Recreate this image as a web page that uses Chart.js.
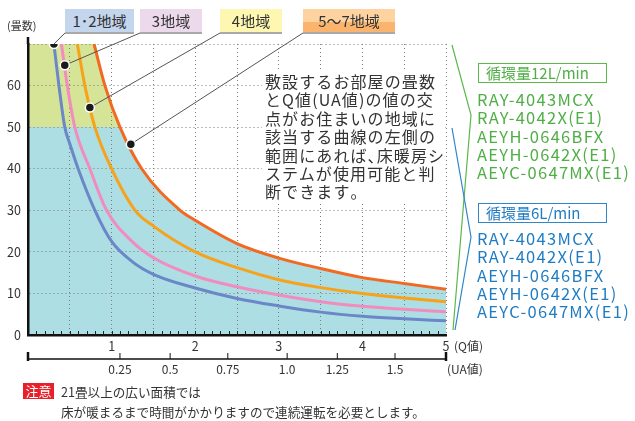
<!DOCTYPE html>
<html lang="ja">
<head>
<meta charset="utf-8">
<script src="https://cdn.jsdelivr.net/npm/chart.js@4.4.1/dist/chart.umd.min.js"></script>
<style>
  html, body { margin: 0; padding: 0; background: #fff; }
  body { font-family: "Noto Sans CJK JP", "Noto Sans", sans-serif; color: #333; }
  #wrap { position: relative; width: 635px; height: 421px; overflow: hidden; }
  #wrap canvas { position: absolute; left: 0; top: 0; }
  .abs { position: absolute; white-space: nowrap; }
  .zone { top: 9px; height: 23px; line-height: 23px; text-align: center; font-size: 15px; color: #333; }
  .ytitle { left: 7px; top: 17px; font-size: 11px; }
  .unit { font-size: 12px; }
  .desc { left: 262px; top: 72px; width: 178px; padding-left: 3px; background: #fff; font-size: 16px; line-height: 18.4px; letter-spacing: 1.1px; color: #333; }
  .half { font-feature-settings: "halt"; }
  .flow { left: 478px; width: 129px; height: 20px; line-height: 17px; font-size: 15px; padding-left: 7px; box-sizing: border-box; }
  .models { left: 477px; font-size: 16.5px; line-height: 18.3px; letter-spacing: 1.3px; }
  .caution { left: 23px; top: 383px; width: 31px; height: 16px; line-height: 16px; background: #e8202a; color: #fff; font-size: 13px; text-align: center; }
  .note { left: 61px; font-size: 12.6px; line-height: 20px; color: #333; }
</style>
</head>
<body>
<div id="wrap">
  <canvas id="chart"></canvas>
  <div class="abs ytitle">(畳数)</div>
  <div class="abs unit" style="left:454px; top:337px;">(Q値)</div>
  <div class="abs unit" style="left:447px; top:360px;">(UA値)</div>
  <div class="abs desc">敷設するお部屋の畳数<br>とQ値(UA値)の値の交<br>点がお住まいの地域に<br>該当する曲線の左側の<br>範囲にあれば<span class="half">、</span>床暖房シ<br>ステムが使用可能と判<br>断できます<span class="half">。</span></div>
  <div class="abs flow" style="top:63px; border:1.5px solid #5cb84a; color:#4fae45;">循環量12L/min</div>
  <div class="abs models" id="models12" style="top:90px; color:#4fae45;"></div>
  <div class="abs flow" style="top:203px; border:1.5px solid #2f86c8; color:#1f7cc2;">循環量6L/min</div>
  <div class="abs models" id="models6" style="top:229px; color:#1f7cc2;"></div>
  <div class="abs caution">注意</div>
  <div class="abs note" style="top:382px;">21畳以上の広い面積では<br>床が暖まるまで時間がかかりますので連続運転を必要とします。</div>
</div>
<script>
// 地域ごとの曲線 (Q値, 畳数)
const zoneNames = ["1･2地域", "3地域", "4地域", "5〜7地域"];

const qBlue = [0.31, 0.37, 0.44, 0.5, 0.6, 0.8, 1.0, 1.25, 1.5, 2.0, 2.5, 3.0, 3.5, 4.0, 4.5, 5.0];
const yBlue = [70, 60, 50, 46, 40, 30, 22.5, 17.6, 14.6, 11.3, 8.8, 7.0, 5.5, 4.5, 3.9, 3.4];

const qPink = [0.40, 0.47, 0.56, 0.74, 0.94, 1.25, 1.5, 2.0, 2.5, 3.0, 3.5, 4.0, 4.5, 5.0];
const yPink = [70, 60, 50, 40, 30, 22.4, 18.6, 14.2, 11.6, 9.6, 8.0, 6.9, 6.2, 5.6];

const qYellow = [0.59, 0.68, 0.80, 1.0, 1.28, 1.5, 2.0, 2.5, 3.0, 3.5, 4.0, 4.5, 5.0];
const yYellow = [70, 60, 50, 40, 30, 26.2, 20.0, 16.2, 13.3, 11.4, 10.0, 8.9, 8.0];

const qOrange = [0.79, 0.92, 1.1, 1.36, 1.82, 2.0, 2.5, 3.0, 3.5, 4.0, 4.5, 5.0];
const yOrange = [70, 60, 50, 40, 30, 27.6, 22.0, 18.5, 16.0, 13.8, 12.4, 11.0];

// 引き出し線の点
const dotQ = [0.31, 0.44, 0.74, 1.23];
const dotY = [70, 64.9, 54.7, 45.9];

// UA値の目盛 (Q値軸上の位置)
const uaLabels = ["0.25", "0.5", "0.75", "1.0", "1.25", "1.5"];
const uaAtQ = [1.10, 1.70, 2.39, 3.10, 3.70, 4.39];

const models = ["RAY-4043MCX", "RAY-4042X(E1)", "AEYH-0646BFX", "AEYH-0642X(E1)", "AEYC-0647MX(E1)"];

const qMin = 0, qMax = 5, yMin = 0, yMax = 70;
const upperBand = 50;

const lineColors = ["#6b87c7", "#f28cbf", "#f7a21b", "#f26a21"];
const zoneColors = ["#c4d5ee", "#ecd9ec", "#fdf7b2", "linear-gradient(#fed3a0 0%, #fed3a0 55%, #fbb46d 55%, #fbb46d 100%)"];
const zoneLeft = [65, 140, 220, 303];
const zoneWidth = [69, 62, 62, 92];
const zoneLineY = 33;

const FONT = "'Noto Sans CJK JP', 'Noto Sans', sans-serif";

// ラベル
const wrap = document.getElementById("wrap");
zoneNames.forEach((name, i) => {
    const d = document.createElement("div");
    d.className = "abs zone";
    d.style.left = zoneLeft[i] + "px";
    d.style.width = zoneWidth[i] + "px";
    d.style.background = zoneColors[i];
    d.textContent = name;
    wrap.appendChild(d);
});
document.getElementById("models12").innerHTML = models.join("<br>");
document.getElementById("models6").innerHTML = models.join("<br>");

const toPoints = (qs, ys) => qs.map((q, i) => ({ x: q, y: ys[i] }));

const fillArea = [{ x: qMin, y: yMax }].concat(toPoints(qOrange, yOrange));

function bandFill(context) {
    const chart = context.chart;
    const area = chart.chartArea;
    if (!area) return "#acdee4";
    const y50 = chart.scales.y.getPixelForValue(upperBand);
    const t = Math.min(1, Math.max(0, (y50 - area.top) / (area.bottom - area.top)));
    const g = chart.ctx.createLinearGradient(0, area.top, 0, area.bottom);
    g.addColorStop(0, "#d6e498");
    g.addColorStop(t, "#d6e498");
    g.addColorStop(t, "#acdee4");
    g.addColorStop(1, "#acdee4");
    return g;
}

const curve = (qs, ys, color) => ({
    type: "line",
    data: toPoints(qs, ys),
    borderColor: color,
    borderWidth: 3,
    pointRadius: 0,
    fill: false,
    cubicInterpolationMode: "monotone"
});

const decor = {
    id: "decor",
    beforeDatasetDraw(chart, args) {
        if (args.index !== 0) return;
        const ctx = chart.ctx;
        const x = chart.scales.x, y = chart.scales.y;
        ctx.save();
        ctx.setLineDash([]);
        ctx.strokeStyle = "#555";
        ctx.lineWidth = 1;
        dotQ.forEach((q, i) => {
            ctx.beginPath();
            ctx.moveTo(x.getPixelForValue(q), y.getPixelForValue(dotY[i]));
            ctx.lineTo(zoneLeft[i], zoneLineY);
            ctx.lineTo(zoneLeft[i] + zoneWidth[i], zoneLineY);
            ctx.stroke();
        });
        ctx.restore();
    },
    afterDraw(chart) {
        const ctx = chart.ctx;
        const x = chart.scales.x;
        const a = chart.chartArea;
        ctx.save();
        ctx.setLineDash([]);
        // y軸の延長
        ctx.strokeStyle = "#111";
        ctx.lineWidth = 2.5;
        ctx.beginPath();
        ctx.moveTo(a.left, a.top);
        ctx.lineTo(a.left, a.top - 7);
        ctx.stroke();
        // Q値の細目盛
        ctx.lineWidth = 1;
        ctx.strokeStyle = "#222";
        for (let i = 1; i < 50; i++) {
            const px = Math.round(x.getPixelForValue(i / 10)) + 0.5;
            ctx.beginPath();
            ctx.moveTo(px, a.bottom);
            ctx.lineTo(px, a.bottom - 4);
            ctx.stroke();
        }
        // UA値の軸
        const uy = a.bottom + 24;
        ctx.strokeStyle = "#111";
        ctx.lineWidth = 1.5;
        ctx.beginPath();
        ctx.moveTo(a.left, uy);
        ctx.lineTo(a.right, uy);
        ctx.stroke();
        ctx.lineWidth = 2.5;
        [a.left, a.right].forEach(px => {
            ctx.beginPath();
            ctx.moveTo(px, uy - 7);
            ctx.lineTo(px, uy + 2);
            ctx.stroke();
        });
        ctx.lineWidth = 1;
        ctx.fillStyle = "#333";
        ctx.font = "12px " + FONT;
        ctx.textAlign = "center";
        ctx.textBaseline = "middle";
        uaAtQ.forEach((q, i) => {
            const px = x.getPixelForValue(q);
            ctx.beginPath();
            ctx.moveTo(px, uy);
            ctx.lineTo(px, uy - 6);
            ctx.stroke();
            ctx.fillText(uaLabels[i], px, uy + 10);
        });
        // 右側の括弧線
        ctx.lineWidth = 1.2;
        ctx.strokeStyle = "#5cb84a";
        ctx.beginPath();
        ctx.moveTo(452, 45);
        ctx.lineTo(471, 115);
        ctx.lineTo(453, 330);
        ctx.stroke();
        ctx.strokeStyle = "#2f86c8";
        ctx.beginPath();
        ctx.moveTo(452, 128);
        ctx.lineTo(471, 237);
        ctx.lineTo(455, 330);
        ctx.stroke();
        ctx.restore();
    }
};

Chart.defaults.font.family = FONT;
Chart.defaults.color = "#333";

const grid = { color: "#7a7a7a", lineWidth: 1, drawTicks: false };
const axisBorder = { color: "#111", width: 2.5, dash: [1, 3] };

new Chart(document.getElementById("chart"), {
    data: {
        datasets: [
            {
                type: "scatter",
                data: toPoints(dotQ, dotY),
                pointRadius: 4.5,
                pointHoverRadius: 4.5,
                backgroundColor: "#1a1a1a",
                borderColor: "#fff",
                borderWidth: 1.5
            },
            curve(qBlue, yBlue, lineColors[0]),
            curve(qPink, yPink, lineColors[1]),
            curve(qYellow, yYellow, lineColors[2]),
            curve(qOrange, yOrange, lineColors[3]),
            {
                type: "line",
                data: fillArea,
                borderWidth: 0,
                pointRadius: 0,
                fill: "origin",
                backgroundColor: bandFill,
                cubicInterpolationMode: "monotone"
            }
        ]
    },
    options: {
        responsive: true,
        maintainAspectRatio: false,
        animation: false,
        events: [],
        layout: { padding: { top: 44, right: 189, left: 0, bottom: 0 } },
        plugins: {
            legend: { display: false },
            tooltip: { enabled: false },
            filler: { drawTime: "beforeDraw" }
        },
        scales: {
            x: {
                type: "linear",
                min: qMin,
                max: qMax,
                afterFit: s => { s.height = 86; },
                border: axisBorder,
                grid: grid,
                ticks: {
                    stepSize: 0.5,
                    autoSkip: false,
                    maxRotation: 0,
                    padding: 4,
                    font: { size: 12.5 },
                    callback: v => (Number.isInteger(v) && v > 0 ? v : "")
                }
            },
            y: {
                type: "linear",
                min: yMin,
                max: yMax,
                afterFit: s => { s.width = 28; },
                border: axisBorder,
                grid: grid,
                ticks: {
                    stepSize: 10,
                    padding: 7,
                    font: { size: 12.5 },
                    callback: v => (v < yMax ? v : "")
                }
            }
        }
    },
    plugins: [decor]
});
</script>
</body>
</html>
